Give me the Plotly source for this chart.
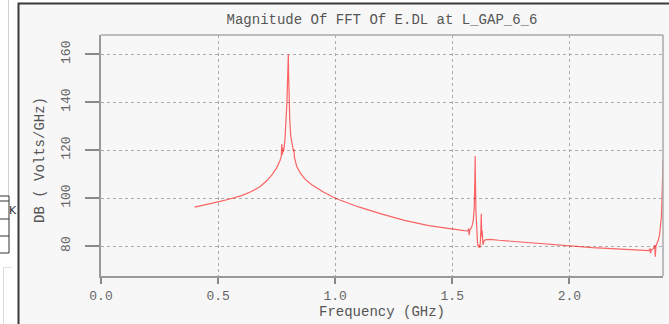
import plotly.graph_objects as go

# FFT magnitude samples (frequency in GHz, magnitude in dB Volts/GHz)
freq_ghz = [
    0.40, 0.45, 0.50, 0.55, 0.60, 0.64, 0.68, 0.71, 0.73, 0.75, 0.76, 0.765,
    0.770, 0.772, 0.774, 0.776, 0.778, 0.782, 0.786, 0.790, 0.794, 0.797,
    0.799, 0.800, 0.801, 0.803, 0.806, 0.810, 0.815, 0.820, 0.822, 0.824,
    0.826, 0.830, 0.836, 0.85, 0.87, 0.90, 0.95, 1.00, 1.10, 1.20, 1.30,
    1.40, 1.50, 1.55, 1.565, 1.570, 1.572, 1.575, 1.580, 1.585, 1.590,
    1.594, 1.597, 1.598, 1.599, 1.601, 1.604, 1.608, 1.612, 1.615, 1.618,
    1.621, 1.624, 1.626, 1.628, 1.631, 1.635, 1.64, 1.66, 1.70, 1.80, 1.90,
    2.00, 2.10, 2.20, 2.30, 2.34, 2.345, 2.347, 2.35, 2.36, 2.365, 2.367,
    2.370, 2.375, 2.380, 2.385, 2.390, 2.393, 2.396, 2.398, 2.400,
]
mag_db = [
    96.2, 97.2, 98.4, 99.6, 101.0, 102.6, 104.8, 107.4, 109.7, 112.6, 114.4, 115.8,
    117.5, 122.5, 118.0, 121.0, 119.0, 121.0, 125.0, 131.0, 140.0, 150.0,
    160.0, 160.0, 152.0, 142.0, 133.0, 126.0, 122.0, 120.5, 119.5, 120.5,
    117.0, 114.8, 113.2, 110.6, 108.0, 105.6, 102.5, 99.9, 96.3, 93.3, 90.6,
    88.5, 86.9, 86.4, 86.3, 87.2, 84.5, 86.8, 87.3, 88.5, 91.0,
    96.0, 110.0, 117.5, 108.0, 95.0, 86.0, 81.0, 79.5, 80.5, 79.2,
    83.0, 93.5, 84.0, 86.5, 80.5, 82.0, 82.6, 82.8, 82.4, 81.6, 80.8,
    80.0, 79.3, 78.8, 78.2, 78.1, 79.0, 77.0, 78.3, 79.0, 80.5, 75.5,
    80.0, 81.0, 82.5, 84.5, 88.0, 92.0, 100.0, 112.0, 116.0,
]

x_ticks = [0.0, 0.5, 1.0, 1.5, 2.0]
x_tick_text = ["0.0", "0.5", "1.0", "1.5", "2.0"]
y_ticks = [80, 100, 120, 140, 160]
y_tick_text = ["80", "100", "120", "140", "160"]

W, H = 669, 324
L, R, T, B = 101, 663, 35, 276   # plot box edges in pixels
MONO = "Liberation Mono, Courier New, monospace"


# paper spans the whole figure (zero margins), so these map pixels to paper
def px(xp):
    return xp / W


def py(yp):
    return 1 - yp / H


def hline(x0, x1, y, color, width=1):
    return dict(type="line", xref="paper", yref="paper", x0=px(x0), x1=px(x1),
                y0=py(y), y1=py(y), line=dict(color=color, width=width))


def vline(x, y0, y1, color, width=1):
    return dict(type="line", xref="paper", yref="paper", x0=px(x), x1=px(x),
                y0=py(y0), y1=py(y1), line=dict(color=color, width=width))


fig = go.Figure()
fig.add_trace(go.Scatter(
    x=freq_ghz, y=mag_db, mode="lines",
    line=dict(color="rgba(255,0,0,0.6)", width=1.2),
    hoverinfo="skip", showlegend=False,
))


# window chrome drawn on a hidden full-figure pixel grid (x2/y2)
def chrome_poly(xs, ys, fill):
    fig.add_trace(go.Scatter(
        x=xs, y=ys, xaxis="x2", yaxis="y2", mode="lines", fill="toself",
        fillcolor=fill, line=dict(width=0, color=fill),
        hoverinfo="skip", showlegend=False,
    ))


def chrome_line(xs, ys, color, width):
    fig.add_trace(go.Scatter(
        x=xs, y=ys, xaxis="x2", yaxis="y2", mode="lines",
        line=dict(color=color, width=width),
        hoverinfo="skip", showlegend=False,
    ))


chrome_poly([0, 18, 18, 669, 669, 0, 0], [324, 324, 3, 3, 0, 0, 324], "#ffffff")
chrome_line([8.5, 8.5], [0, 196], "#d0d0d0", 1)
chrome_line([3.5, 3.5], [268, 324], "#dcdcdc", 1)
chrome_line([3, 12], [267.5, 267.5], "#e2e2e2", 1)
chrome_line([669, 18.5, 18.5], [3.5, 3.5, 324], "#3a3a3a", 2)

shapes = [
    # cut-off widget box at the left edge
    dict(type="rect", xref="paper", yref="paper", x0=px(-2), x1=px(9),
         y0=py(253), y1=py(196), fillcolor="white", line=dict(color="#333", width=1)),
    hline(0, 9, 201, "#333"),
    hline(0, 9, 219, "#333"),
    hline(0, 9, 236, "#333"),
    # lighter top and right edges of the plot box
    hline(L, R, T, "#aaa", 1.5),
    vline(R, T, B, "#aaa", 1.5),
]

annotations = [
    dict(text="Frequency (GHz)", xref="paper", yref="paper", x=px(382), y=py(312),
         showarrow=False, font=dict(family=MONO, size=14, color="#555"),
         xanchor="center", yanchor="middle"),
    dict(text="DB ( Volts/GHz)", xref="paper", yref="paper", x=px(40), y=py(160),
         showarrow=False, textangle=-90, font=dict(family=MONO, size=14, color="#555"),
         xanchor="center", yanchor="middle"),
    dict(text="K", xref="paper", yref="paper", x=px(12.5), y=py(210), showarrow=False,
         font=dict(family="DejaVu Sans", size=11, color="#333"),
         xanchor="center", yanchor="middle"),
]

fig.update_layout(
    width=W, height=H,
    margin=dict(l=0, r=0, t=0, b=0, pad=0),
    paper_bgcolor="#f7f7f7", plot_bgcolor="rgba(0,0,0,0)",
    title=dict(text="Magnitude Of FFT Of E.DL at L_GAP_6_6", x=(L + R) / 2 / W,
               xref="container", y=1 - 19 / H, yref="container",
               xanchor="center", yanchor="middle",
               font=dict(family=MONO, size=14, color="#555")),
    shapes=shapes, annotations=annotations,
    xaxis=dict(domain=[L / W, R / W], range=[0, 2.4],
               tickvals=x_ticks, ticktext=x_tick_text, automargin=False,
               showgrid=True, gridcolor="#aaa", griddash="dot", gridwidth=1,
               zeroline=False, showline=True, linecolor="#999", linewidth=2,
               ticks="outside", ticklen=6, tickcolor="#888", tickwidth=1.5,
               ticklabelstandoff=0,
               tickfont=dict(family=MONO, size=13, color="#666")),
    yaxis=dict(domain=[1 - B / H, 1 - T / H], range=[67.5, 168],
               tickvals=y_ticks, ticktext=y_tick_text, automargin=False,
               showgrid=True, gridcolor="#aaa", griddash="dot", gridwidth=1,
               zeroline=False, showline=True, linecolor="#999", linewidth=2,
               ticks="outside", ticklen=14, tickcolor="#888", tickwidth=1.5,
               tickangle=-90, ticklabelstandoff=10,
               tickfont=dict(family=MONO, size=13, color="#666")),
    xaxis2=dict(domain=[0, 1], range=[0, W], visible=False, fixedrange=True,
                anchor="y2"),
    yaxis2=dict(domain=[0, 1], range=[H, 0], visible=False, fixedrange=True,
                anchor="x2"),
)

fig.write_html("out.html")
